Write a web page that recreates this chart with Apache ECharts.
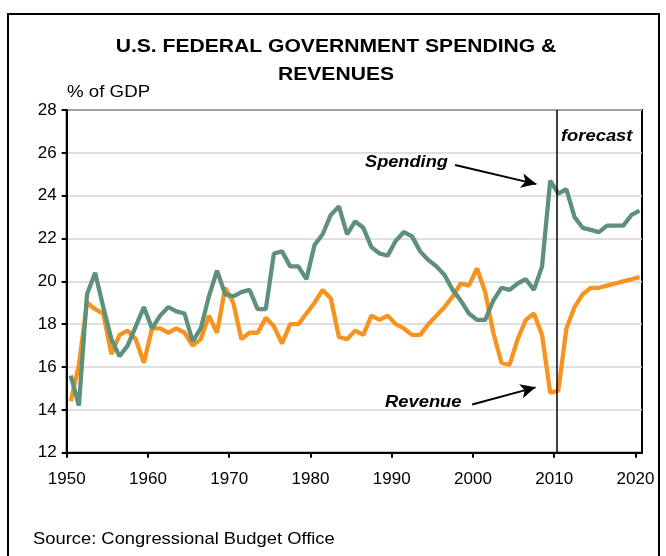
<!DOCTYPE html>
<html>
<head>
<meta charset="utf-8">
<script src="https://cdn.jsdelivr.net/npm/echarts@6/dist/echarts.min.js"></script>
<style>
html,body{margin:0;padding:0;background:#fff;}
#chart{width:666px;height:556px;}
</style>
</head>
<body>
<div id="chart"></div>
<script>
var years = [1950,1951,1952,1953,1954,1955,1956,1957,1958,1959,
             1960,1961,1962,1963,1964,1965,1966,1967,1968,1969,
             1970,1971,1972,1973,1974,1975,1976,1977,1978,1979,
             1980,1981,1982,1983,1984,1985,1986,1987,1988,1989,
             1990,1991,1992,1993,1994,1995,1996,1997,1998,1999,
             2000,2001,2002,2003,2004,2005,2006,2007,2008,2009,
             2010,2011,2012,2013,2014,2015,2016,2017,2018,2019,2020];
var spending = [15.6,14.2,19.4,20.4,18.8,17.3,16.5,17.0,17.9,18.8,
                17.8,18.4,18.8,18.6,18.5,17.2,17.8,19.3,20.5,19.4,
                19.3,19.5,19.6,18.7,18.7,21.3,21.4,20.7,20.7,20.1,
                21.7,22.2,23.1,23.5,22.2,22.8,22.5,21.6,21.3,21.2,
                21.9,22.3,22.1,21.4,21.0,20.7,20.3,19.6,19.1,18.5,
                18.2,18.2,19.1,19.7,19.6,19.9,20.1,19.6,20.7,24.7,
                24.1,24.3,23.0,22.5,22.4,22.3,22.6,22.6,22.6,23.1,23.3];
var revenue = [14.4,16.1,19.0,18.7,18.5,16.6,17.5,17.7,17.3,16.2,
               17.8,17.8,17.6,17.8,17.6,17.0,17.3,18.4,17.6,19.7,
               19.0,17.3,17.6,17.6,18.3,17.9,17.1,18.0,18.0,18.5,
               19.0,19.6,19.2,17.4,17.3,17.7,17.5,18.4,18.2,18.4,
               18.0,17.8,17.5,17.5,18.0,18.4,18.8,19.3,19.9,19.8,
               20.6,19.5,17.6,16.2,16.1,17.3,18.2,18.5,17.5,14.8,
               14.9,17.8,18.8,19.4,19.7,19.7,19.8,19.9,20.0,20.1,20.2];
var xTicks = [1950,1960,1970,1980,1990,2000,2010,2020];
var yTicks = [12,14,16,18,20,22,24,26,28];
var forecastStart = 2010.25;

// fiscal-year values plotted at mid-year
function pairs(vals){ return years.map(function(y,i){ return [y + 0.5, vals[i]]; }); }

var FONT = 'Liberation Sans, Arial, sans-serif';
function txt(s, x, y, font, align, sx){
  return {type:'text', x:x, y:y, scaleX:sx, silent:true,
          style:{text:s, font:font, fill:'#000', textAlign:align, textVerticalAlign:'middle'}};
}
var chart = echarts.init(document.getElementById('chart'), null, {renderer:'canvas'});
chart.setOption({
  backgroundColor: '#ffffff',
  animation: false,
  grid: {left: 66.7, right: 24, top: 110, bottom: 103.3, show: true, borderColor: '#000', borderWidth: 2, containLabel: false},
  xAxis: {
    type: 'value', min: xTicks[0], max: 2020.8, interval: 10,
    axisLine: {show: true, lineStyle: {color: '#000', width: 2}},
    axisTick: {show: true, length: 5, lineStyle: {color: '#000', width: 2}},
    axisLabel: {fontFamily: FONT, fontSize: 17, color: '#000', margin: 18, showMaxLabel: false,
                formatter: function(v){ return String(v); }},
    splitLine: {show: false}
  },
  yAxis: {
    type: 'value', min: yTicks[0], max: yTicks[yTicks.length-1], interval: 2,
    axisLine: {show: true, lineStyle: {color: '#000', width: 2}},
    axisTick: {show: true, length: 5, lineStyle: {color: '#000', width: 2}},
    axisLabel: {fontFamily: FONT, fontSize: 17, color: '#000', margin: 10},
    splitLine: {show: true, lineStyle: {color: '#d4d4d4', width: 1.5}}
  },
  series: [
    {
      name: 'Revenue', type: 'line', data: pairs(revenue), showSymbol: false, symbol: 'none',
      lineStyle: {color: '#F7931E', width: 4.3}, z: 3,
      markLine: {
        silent: true, symbol: ['none','arrow'], symbolSize: [11, 15],
        lineStyle: {color: '#000', width: 2, type: 'solid'},
        label: {show: false},
        data: [
          [{coord: [1999.9, 14.25]}, {coord: [2007.7, 15.05]}],
          [{coord: [1997.8, 25.43]}, {coord: [2007.8, 24.54]}]
        ]
      }
    },
    {
      name: 'Spending', type: 'line', data: pairs(spending), showSymbol: false, symbol: 'none',
      lineStyle: {color: '#5F907C', width: 4.3}, z: 4,
      markLine: {
        silent: true, symbol: ['none','none'],
        lineStyle: {color: '#000', width: 1.5, type: 'solid'},
        label: {show: false},
        data: [{xAxis: forecastStart}]
      }
    }
  ],
  graphic: [
    {type: 'rect', shape: {x: 8, y: 14, width: 651, height: 600}, style: {fill: 'none', stroke: '#000', lineWidth: 2}, silent: true},
    txt('U.S. FEDERAL GOVERNMENT SPENDING &', 336, 47, 'bold 19px ' + FONT, 'center', 1.11),
    txt('REVENUES', 336, 75, 'bold 19px ' + FONT, 'center', 1.11),
    txt('% of GDP', 67, 92, '17px ' + FONT, 'left', 1.1),
    txt('Spending', 365, 162, 'italic bold 17px ' + FONT, 'left', 1.07),
    txt('Revenue', 385, 402, 'italic bold 17px ' + FONT, 'left', 1.08),
    txt('forecast', 561, 136, 'italic bold 17px ' + FONT, 'left', 1.08),
    txt('Source: Congressional Budget Office', 33, 539, '17px ' + FONT, 'left', 1.08)
  ]
});
</script>
</body>
</html>
